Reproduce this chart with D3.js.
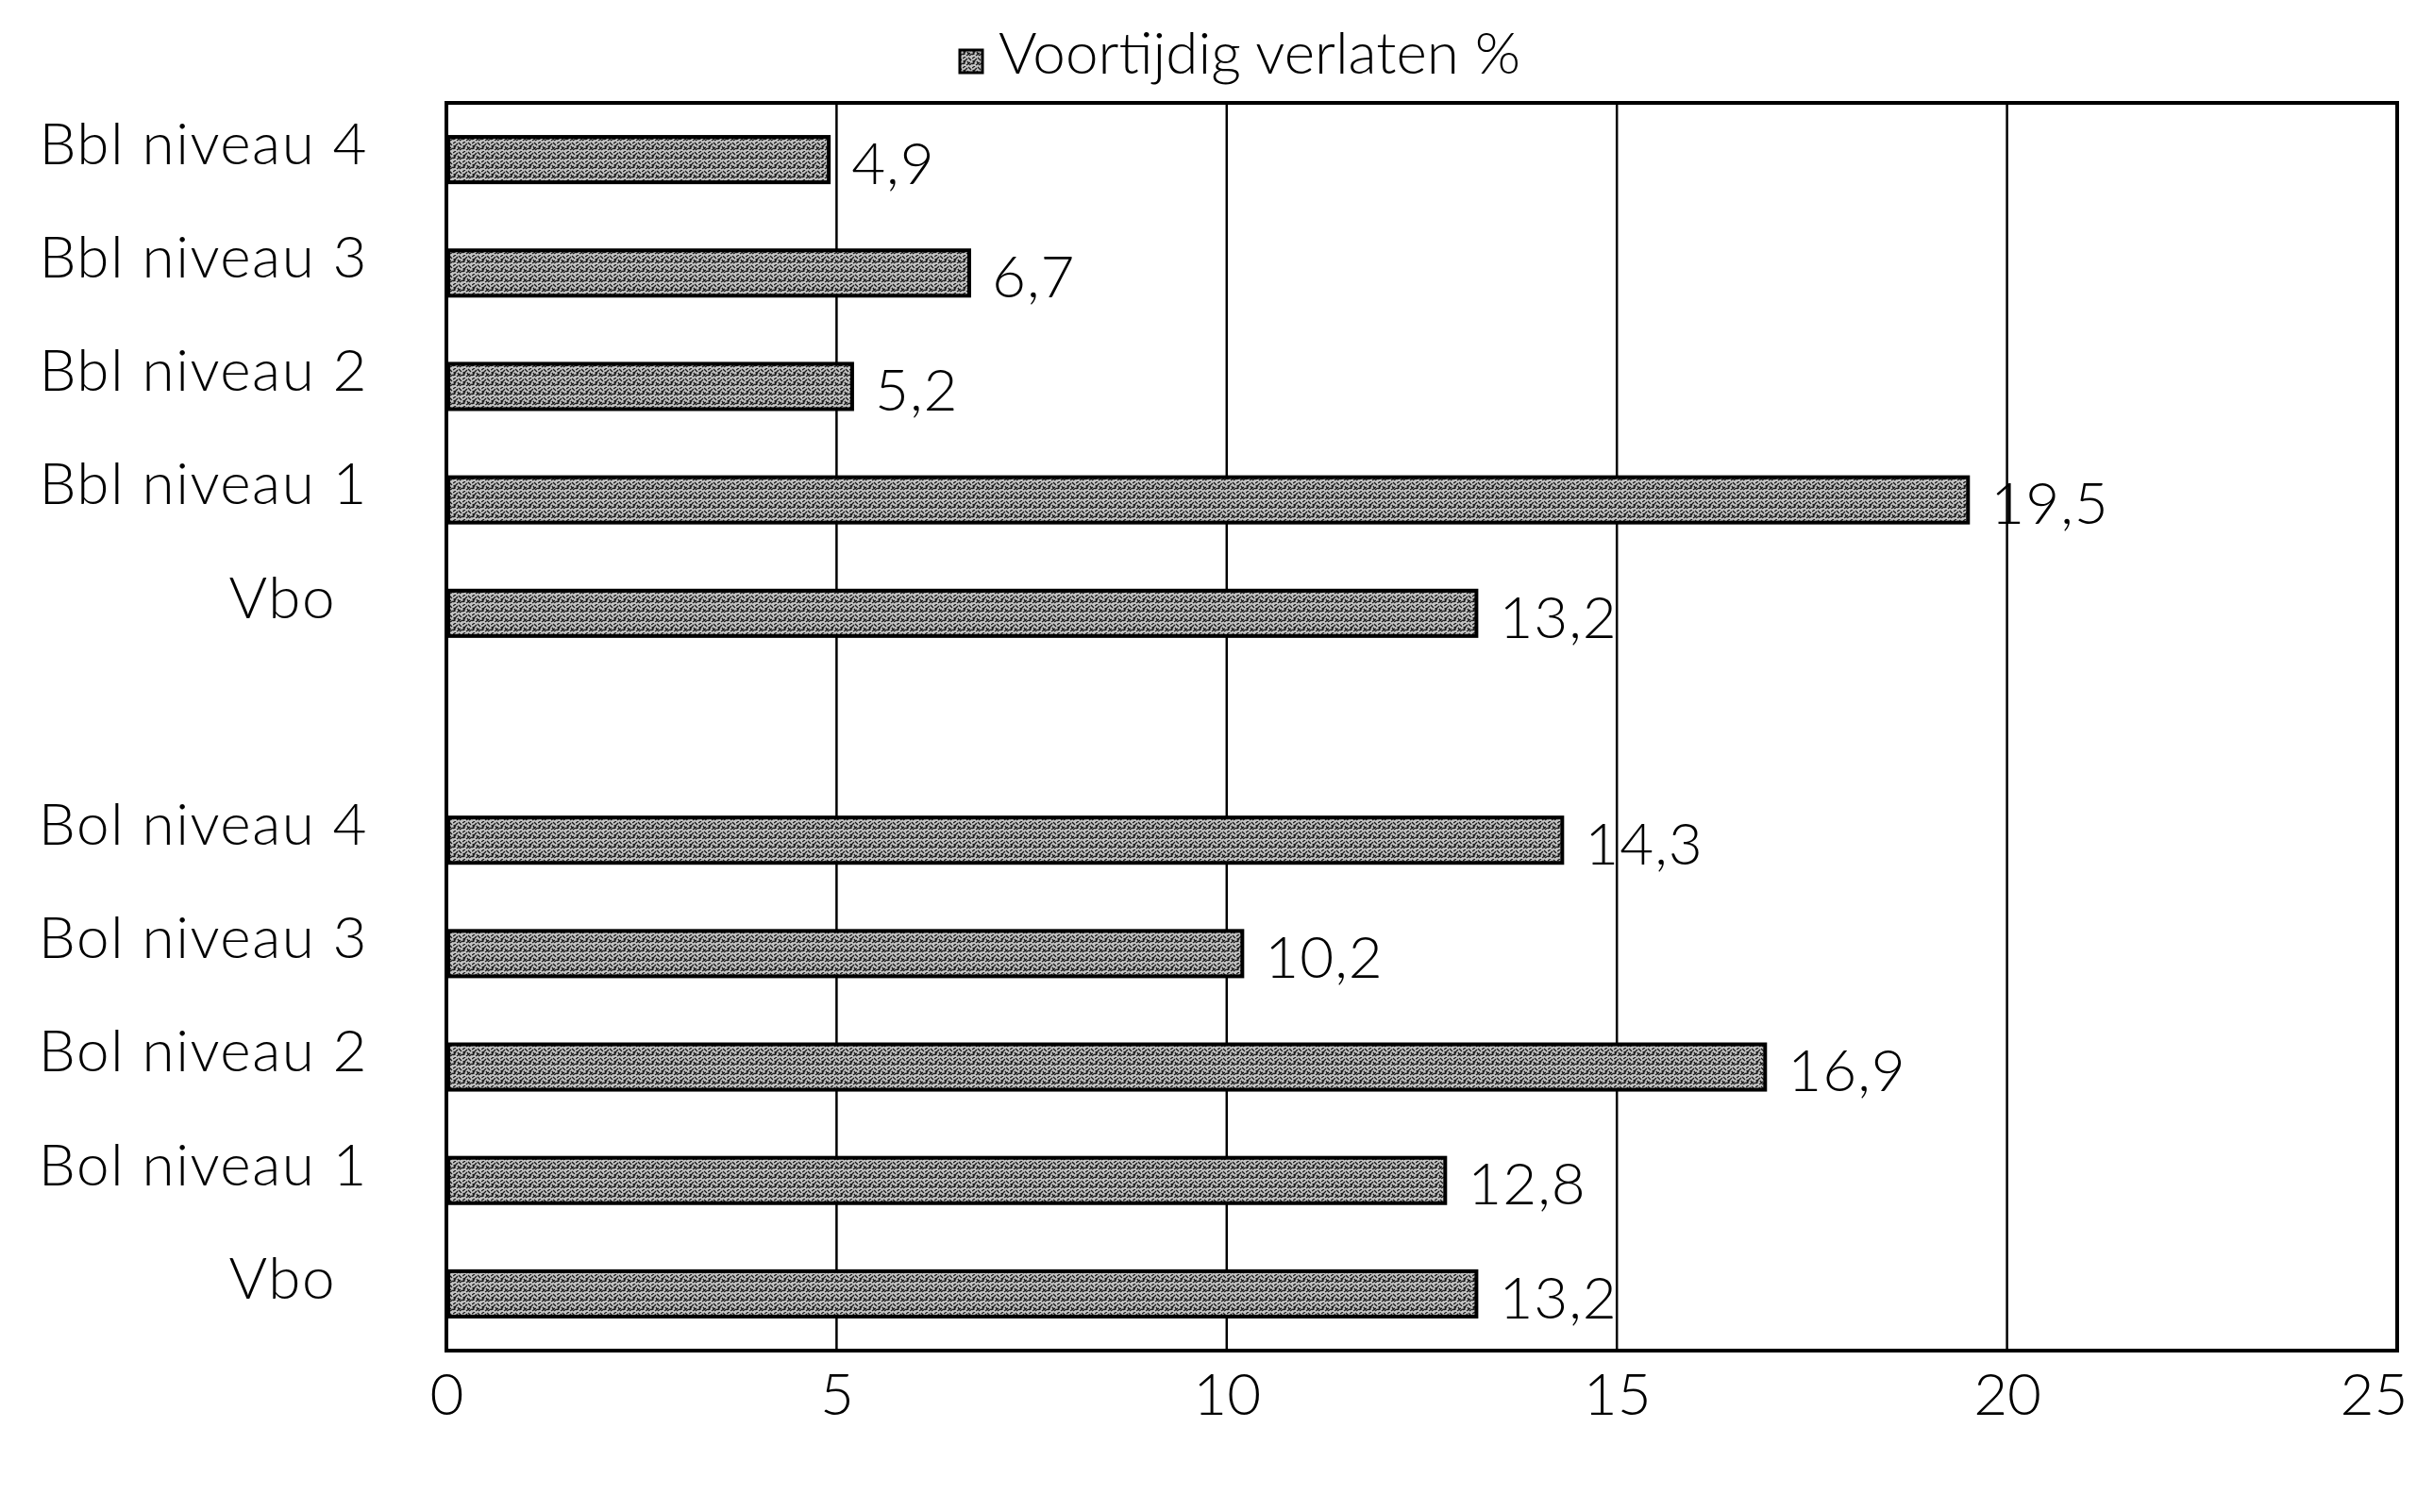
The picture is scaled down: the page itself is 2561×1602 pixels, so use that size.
<!DOCTYPE html>
<html>
<head>
<meta charset="utf-8">
<script src="https://cdn.jsdelivr.net/npm/d3@7"></script>
<style>
  html, body { margin: 0; padding: 0; background: #fff; }
  svg { display: block; }
  text { font-family: Lato, "Noto Sans", sans-serif; font-weight: 300; fill: #000; }
</style>
</head>
<body>
<svg id="chart" width="2561" height="1602"></svg>
<script>
// ---- data ----
const categories = ["Bbl niveau 4", "Bbl niveau 3", "Bbl niveau 2", "Bbl niveau 1", "Vbo", "",
                    "Bol niveau 4", "Bol niveau 3", "Bol niveau 2", "Bol niveau 1", "Vbo"];
const values = [4.9, 6.7, 5.2, 19.5, 13.2, null, 14.3, 10.2, 16.9, 12.8, 13.2];
const valueLabels = ["4,9", "6,7", "5,2", "19,5", "13,2", "", "14,3", "10,2", "16,9", "12,8", "13,2"];
const xTicks = [0, 5, 10, 15, 20, 25];
const seriesName = "Voortijdig verlaten %";

// ---- layout ----
const plot = { left: 473, right: 2540, top: 109, bottom: 1431 };
const svg = d3.select("#chart");
const FS = 62;

// pattern mimicking dithered grey fill
const defs = svg.append("defs");
const pat = defs.append("pattern").attr("id", "dither")
  .attr("patternUnits", "userSpaceOnUse").attr("width", 10).attr("height", 10);
pat.append("rect").attr("width", 10).attr("height", 10).attr("fill", "#c4c4c4");
pat.append("path")
  .attr("d", "M0,2 L3,0 M2,5 L5,2 M6,1 L9,4 M0,8 L3,5 M4,9 L8,6 M7,9 L10,7 M5,5 L7,8 M1,4 L2,8")
  .attr("stroke", "#1a1a1a").attr("stroke-width", 1.4).attr("fill", "none");

const idx = d3.range(categories.length);
const x = d3.scaleLinear().domain([0, 25]).range([plot.left, plot.right]);
const y = d3.scaleBand().domain(idx).range([plot.top, plot.bottom])
  .paddingInner(0.6).paddingOuter(0.3);

// gridlines
svg.append("g").selectAll("line").data(xTicks.slice(1, -1)).join("line")
  .attr("x1", d => x(d)).attr("x2", d => x(d))
  .attr("y1", plot.top).attr("y2", plot.bottom)
  .attr("stroke", "#000").attr("stroke-width", 2.5);

// plot frame
svg.append("rect")
  .attr("x", plot.left).attr("y", plot.top)
  .attr("width", plot.right - plot.left).attr("height", plot.bottom - plot.top)
  .attr("fill", "none").attr("stroke", "#000").attr("stroke-width", 4);

// bars
const barData = idx.filter(i => values[i] != null);
svg.append("g").selectAll("rect").data(barData).join("rect")
  .attr("x", x(0) + 2)
  .attr("y", i => y(i))
  .attr("width", i => x(values[i]) - x(0) - 2)
  .attr("height", y.bandwidth())
  .attr("fill", "url(#dither)")
  .attr("stroke", "#000").attr("stroke-width", 4);

// value labels
svg.append("g").selectAll("text").data(barData).join("text")
  .attr("x", i => x(values[i]) + 24)
  .attr("y", i => y(i) + y.bandwidth() / 2 + 4)
  .attr("dy", "0.35em")
  .attr("font-size", FS)
  .attr("letter-spacing", 1)
  .text(i => valueLabels[i]);

// y axis (category labels)
const yAxis = d3.axisLeft(y).tickSize(0).tickPadding(83)
  .tickFormat(i => categories[i]);
const gy = svg.append("g").attr("transform", `translate(${plot.left},0)`).call(yAxis);
gy.select(".domain").remove();
gy.selectAll("text").attr("font-size", FS).attr("font-family", null)
  .attr("letter-spacing", 1.5)
  .attr("transform", "translate(0,-15)")
  .attr("dx", i => categories[i] === "Vbo" ? -34 : 0);

// x axis
const xAxis = d3.axisBottom(x).tickValues(xTicks).tickSize(0).tickPadding(24)
  .tickFormat(d => String(d));
const gx = svg.append("g").attr("transform", `translate(0,${plot.bottom})`).call(xAxis);
gx.select(".domain").remove();
gx.selectAll("text").attr("font-size", FS).attr("font-family", null)
  .attr("dx", d => d === 25 ? -25 : 0);

// legend
const leg = svg.append("g");
leg.append("rect").attr("x", 1017).attr("y", 53).attr("width", 24).attr("height", 24)
  .attr("fill", "url(#dither)").attr("stroke", "#000").attr("stroke-width", 3);
leg.append("text").attr("x", 1058).attr("y", 78).attr("font-size", FS).text(seriesName);
</script>
</body>
</html>
